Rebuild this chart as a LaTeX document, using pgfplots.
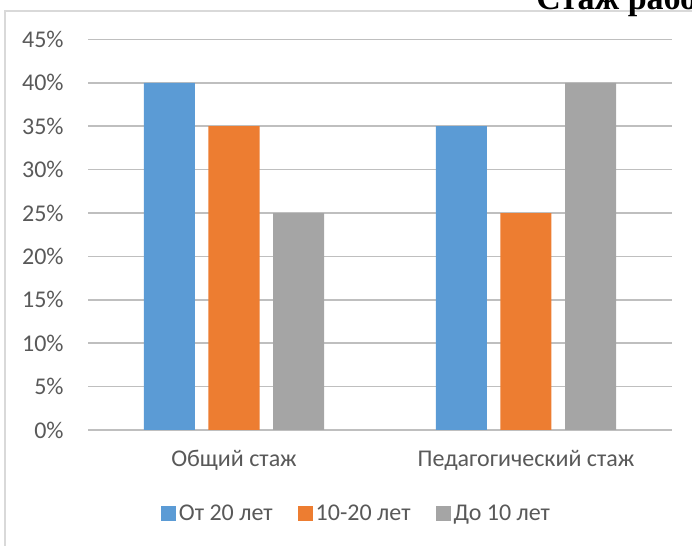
\documentclass[border=0pt]{standalone}
\usepackage{pgfplots}
\pgfplotsset{compat=1.18}
\usepackage{fontspec}
\setmainfont{Carlito}
\newfontfamily\titlefont{Liberation Serif}

\definecolor{sblue}{HTML}{5B9BD5}
\definecolor{sorange}{HTML}{ED7D31}
\definecolor{sgray}{HTML}{A5A5A5}
\definecolor{txt}{HTML}{595959}
\definecolor{grid}{HTML}{D9D9D9}

\begin{document}
\begin{tikzpicture}
% frame of the chart (only left and top edges visible)
\draw[grid, line width=0.75pt] (2.5pt,0) -- (2.5pt,267.5pt) -- (350pt,267.5pt);
% title, cut off by the page edge
\node[anchor=base west, inner sep=0pt, font=\titlefont\bfseries\fontsize{17}{19}\selectfont]
  at (268pt,268pt) {Стаж работы};

\begin{axis}[
    at={(44pt,58pt)}, anchor=south west,
    scale only axis,
    width=292pt, height=195.3pt,
    ybar=6.75pt, bar width=25.5pt,
    xmin=-0.5, xmax=1.5,
    ymin=0, ymax=45,
    axis line style={draw=none},
    xtick=data,
    xticklabels={Общий стаж, Педагогический стаж},
    ytick={0,5,...,45},
    yticklabels={0\%,5\%,10\%,15\%,20\%,25\%,30\%,35\%,40\%,45\%},
    major tick length=0pt,
    tick style={draw=none},
    xmajorgrids=false,
    ymajorgrids=true,
    grid style={grid, line width=0.75pt},
    tick label style={font=\fontsize{12}{14}\selectfont, text=txt},
    yticklabel style={anchor=east, inner sep=0pt, xshift=-12pt},
    xticklabel style={anchor=base, inner sep=0pt, yshift=-18.5pt},
    legend columns=3,
    legend style={at={(0.4606,-0.215)}, anchor=center, draw=none,
        font=\fontsize{12}{14}\selectfont, text=txt,
        nodes={inner sep=1.5pt},
        /tikz/every even column/.append style={column sep=11pt}},
    legend image code/.code={\fill[#1] (0pt,-3.75pt) rectangle (7.5pt,3.75pt);},
]
\addplot[fill=sblue, draw=none] coordinates {(0,40) (1,35)};
\addlegendentry{От 20 лет}
\addplot[fill=sorange, draw=none] coordinates {(0,35) (1,25)};
\addlegendentry{10-20 лет}
\addplot[fill=sgray, draw=none] coordinates {(0,25) (1,40)};
\addlegendentry{До 10 лет}
\end{axis}

\pgfresetboundingbox
\path[use as bounding box] (0,0) rectangle (346pt,273pt);
\end{tikzpicture}
\end{document}
